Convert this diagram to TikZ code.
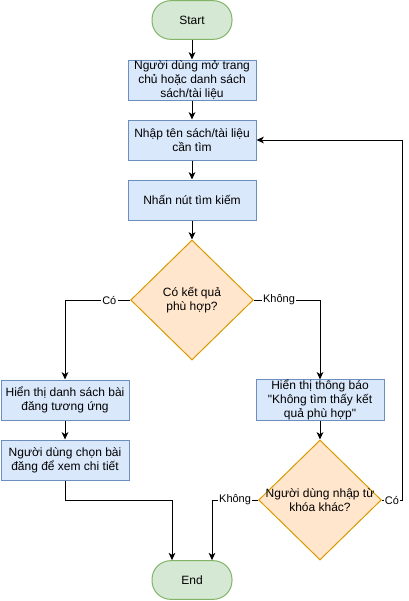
\documentclass[tikz,border=0pt]{standalone}
\usepackage{fontspec}
\setmainfont{Liberation Sans}[Ligatures=TeXOff]
\usetikzlibrary{shapes.geometric,arrows.meta}

\definecolor{termfill}{HTML}{D5E8D4}
\definecolor{termline}{HTML}{82B366}
\definecolor{stepfill}{HTML}{DAE8FC}
\definecolor{stepline}{HTML}{6C8EBF}
\definecolor{askfill}{HTML}{FFE6CC}
\definecolor{askline}{HTML}{D79B00}

\begin{document}
\begin{tikzpicture}[x=0.75pt,y=-0.75pt,line width=0.75pt]
	\tikzset{>={Stealth[length=5.5pt,width=5pt,inset=1.5pt]},
		terminal/.style={draw=termline,fill=termfill,rounded corners=14pt,minimum width=60pt,minimum height=29pt,font=\fontsize{9}{10.5}\selectfont},
		stepbox/.style={draw=stepline,fill=stepfill,minimum width=96pt,minimum height=30pt,inner ysep=0pt,align=center,font=\fontsize{9}{10.5}\selectfont},
		askbox/.style={draw=askline,fill=askfill,diamond,minimum width=92pt,minimum height=90pt,inner sep=0pt},
		asktext/.style={align=center,font=\fontsize{9}{10.5}\selectfont},
		edgelabel/.style={fill=white,inner sep=1pt,font=\fontsize{8.25}{9}\selectfont}}

	\useasboundingbox (0,0) rectangle (409,601);

	\node[terminal] (start) at (192,20) {Start};
	\node[stepbox] (open) at (192,80) {Người dùng mở trang\\chủ hoặc danh sách\\sách/tài liệu};
	\node[stepbox] (input) at (192,140) {Nhập tên sách/tài liệu\\cần tìm};
	\node[stepbox] (search) at (192,200) {Nhấn nút tìm kiếm};
	\node[askbox,label={[asktext]center:Có kết quả\\phù hợp?}] (found) at (192,300) {};

	\node[stepbox] (list) at (65,400) {Hiển thị danh sách bài\\đăng tương ứng};
	\node[stepbox] (pick) at (65,460) {Người dùng chọn bài\\đăng để xem chi tiết};

	\node[stepbox] (notice) at (320,400) {Hiển thị thông báo\\"Không tìm thấy kết\\quả phù hợp"};
	\node[askbox,label={[asktext]center:Người dùng nhập từ\\khóa khác?}] (retry) at (320,500) {};

	\node[terminal] (end) at (192,580) {End};

	\coordinate (leftjoin) at (65,500);
	\coordinate (endjoin) at (172,500);
	\coordinate (midjoin) at (212,500);
	\coordinate (loopback) at (402,500);

	\draw[->] (start) -- (open);
	\draw[->] (open) -- (input);
	\draw[->] (input) -- (search);
	\draw[->] (search) -- (found);
	\draw[->] (found.west) -| node[pos=0.16,edgelabel] {Có} (list.north);
	\draw[->] (found.east) -| node[pos=0.19,edgelabel] {Không} (notice.north);
	\draw[->] (list) -- (pick);
	\draw[->] (pick.south) -- (leftjoin) -- (endjoin) -- (endjoin |- end.north);
	\draw[->] (notice) -- (retry);
	\draw[->] (retry.west) -- node[edgelabel] {Không} (midjoin) -- (midjoin |- end.north);
	\draw[->] (retry.east) -- node[edgelabel] {Có} (loopback) |- (input.east);

\end{tikzpicture}
\end{document}
